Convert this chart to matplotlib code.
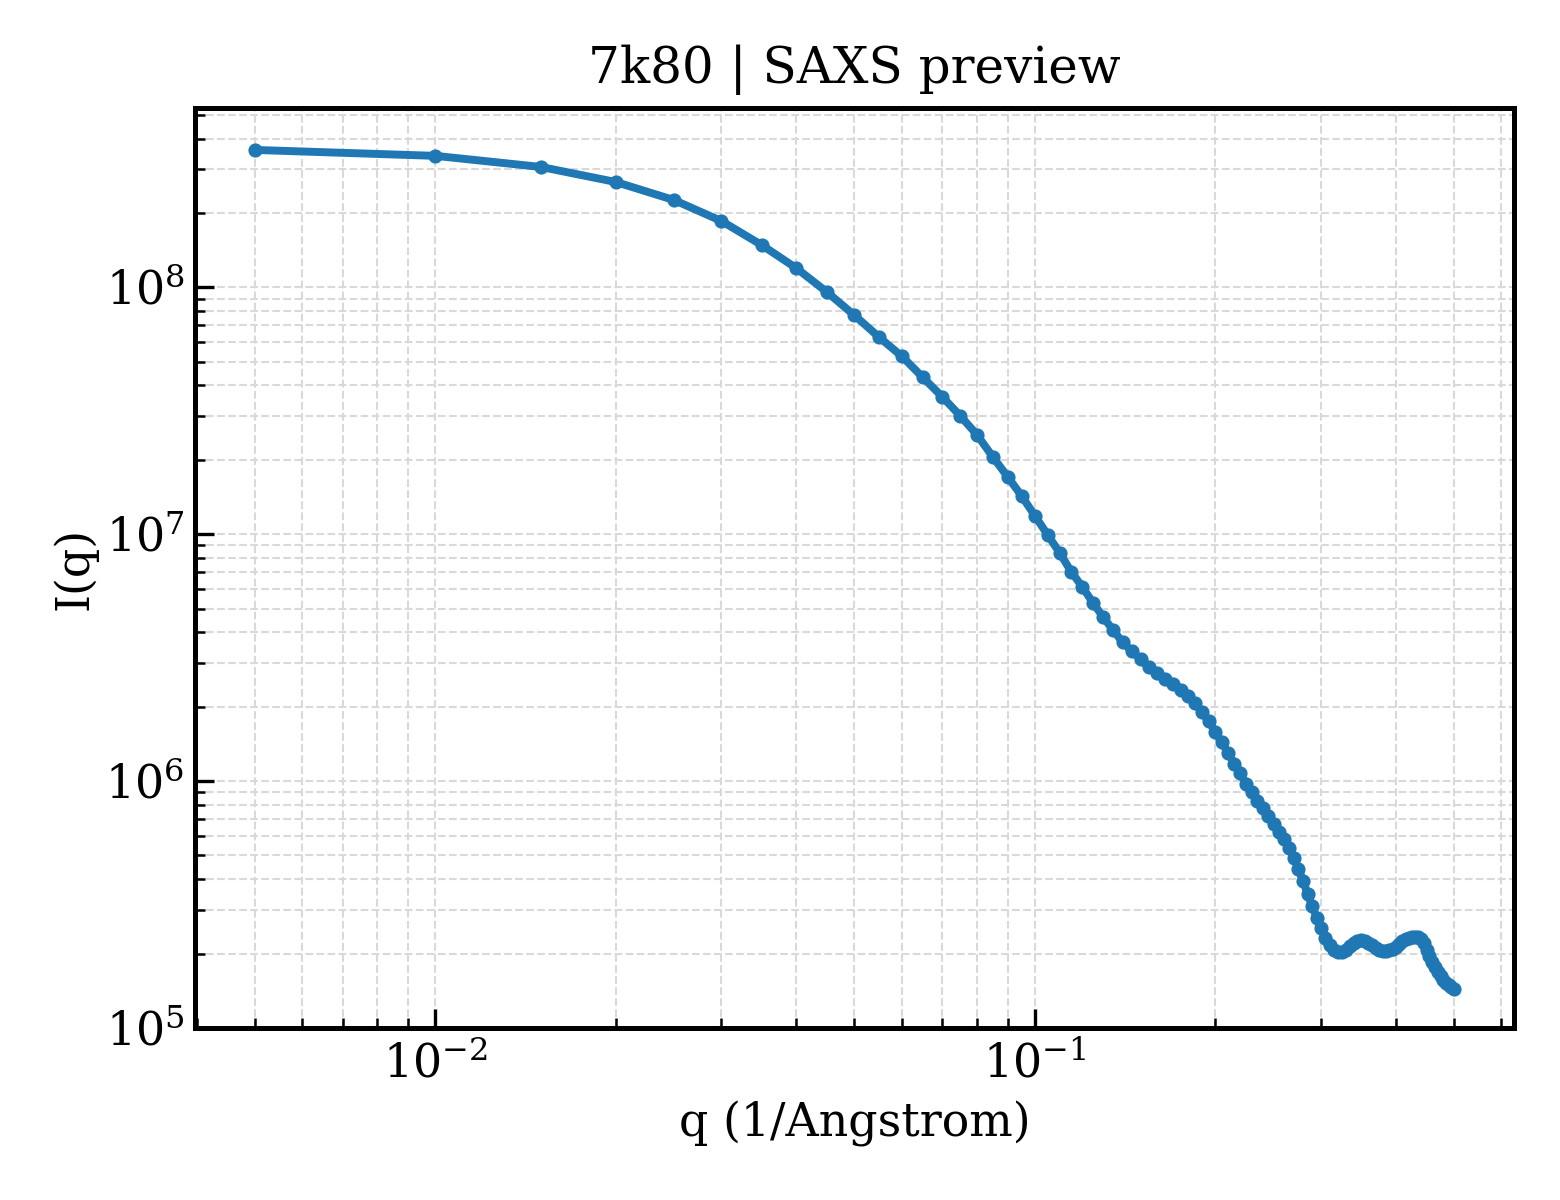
import numpy as np
import matplotlib
matplotlib.use('agg')
import matplotlib.pyplot as plt

plt.rcParams['font.family'] = 'DejaVu Serif'
plt.rcParams['mathtext.fontset'] = 'dejavuserif'

# q grid of the preview (1/Angstrom)
q = [0.005, 0.010, 0.015, 0.020, 0.025, 0.030, 0.035, 0.040, 0.045, 0.050,
     0.055, 0.060, 0.065, 0.070, 0.075, 0.080, 0.085, 0.090, 0.095, 0.100,
     0.105, 0.110, 0.115, 0.120, 0.125, 0.130, 0.135, 0.140, 0.145, 0.150,
     0.155, 0.160, 0.165, 0.170, 0.175, 0.180, 0.185, 0.190, 0.195, 0.200,
     0.205, 0.210, 0.215, 0.220, 0.225, 0.230, 0.235, 0.240, 0.245, 0.250,
     0.255, 0.260, 0.265, 0.270, 0.275, 0.280, 0.285, 0.290, 0.295, 0.300,
     0.305, 0.310, 0.315, 0.320, 0.325, 0.330, 0.335, 0.340, 0.345, 0.350,
     0.355, 0.360, 0.365, 0.370, 0.375, 0.380, 0.385, 0.390, 0.395, 0.400,
     0.405, 0.410, 0.415, 0.420, 0.425, 0.430, 0.435, 0.440, 0.445, 0.450,
     0.455, 0.460, 0.465, 0.470, 0.475, 0.480, 0.485, 0.490, 0.495, 0.500]

# log10 of intensity
log_I = [8.556, 8.532, 8.487, 8.426, 8.353, 8.268, 8.171, 8.077, 7.980, 7.886,
         7.797, 7.720, 7.635, 7.557, 7.480, 7.403, 7.314, 7.233, 7.155, 7.074,
         6.997, 6.924, 6.847, 6.786, 6.721, 6.664, 6.611, 6.563, 6.526, 6.494,
         6.461, 6.437, 6.412, 6.392, 6.368, 6.343, 6.315, 6.279, 6.242, 6.197,
         6.157, 6.112, 6.071, 6.031, 5.990, 5.954, 5.921, 5.893, 5.860, 5.828,
         5.795, 5.767, 5.730, 5.690, 5.645, 5.596, 5.543, 5.495, 5.447, 5.406,
         5.365, 5.338, 5.318, 5.306, 5.308, 5.318, 5.332, 5.345, 5.354, 5.357,
         5.354, 5.346, 5.336, 5.326, 5.318, 5.314, 5.313, 5.315, 5.320, 5.330,
         5.342, 5.353, 5.361, 5.366, 5.369, 5.370, 5.368, 5.360, 5.343, 5.318,
         5.293, 5.268, 5.248, 5.228, 5.211, 5.196, 5.184, 5.175, 5.167, 5.160]

intensity = [10 ** v for v in log_I]

fig, ax = plt.subplots(figsize=(5.2, 4), dpi=300)
ax.loglog(q, intensity, marker='o', markersize=2.4, linewidth=1.9, color='tab:blue')
ax.set_ylim(bottom=1e5)

ax.set_xlabel("q (1/Angstrom)", fontsize=11, labelpad=3)
ax.set_ylabel("I(q)", fontsize=11, labelpad=2)
ax.set_title("7k80 | SAXS preview", fontsize=12)
ax.tick_params(which='both', direction='in', labelsize=11)
ax.tick_params(axis='y', which='both', pad=2.5)
ax.tick_params(which='major', length=4.5)
ax.tick_params(which='minor', length=2.5)
for s in ax.spines.values():
    s.set_linewidth(1.2)
ax.grid(True, which='both', linestyle='--', linewidth=0.5, color='0.85')

fig.subplots_adjust(left=0.125, right=0.9705, top=0.91, bottom=0.1433)
plt.savefig("out.png")
